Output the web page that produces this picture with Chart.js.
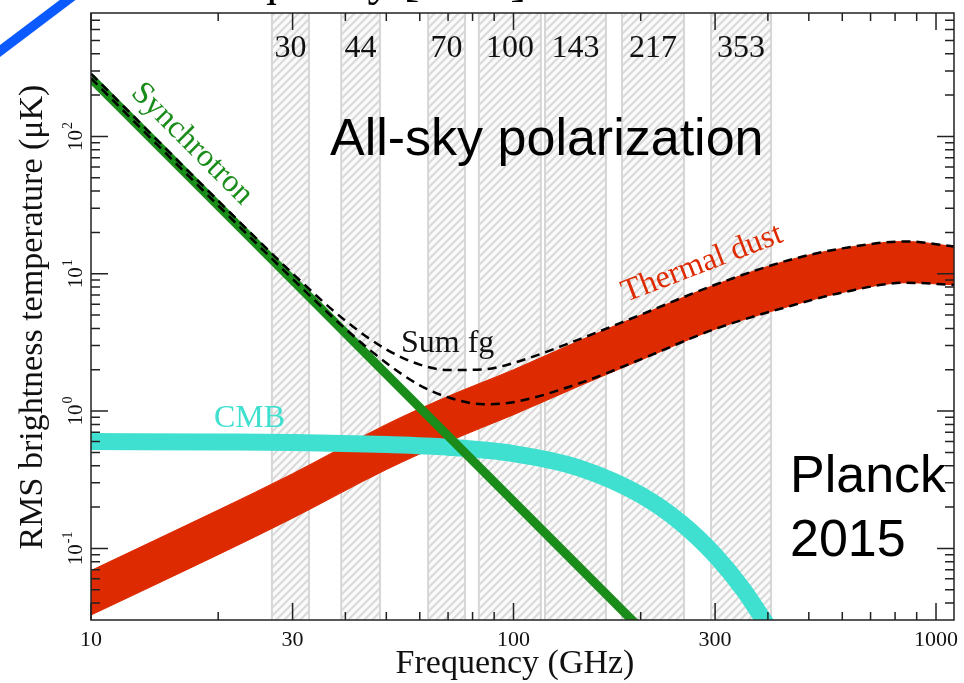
<!DOCTYPE html>
<html>
<head>
<meta charset="utf-8">
<title>All-sky polarization foregrounds</title>
<script src="https://cdn.jsdelivr.net/npm/chart.js@4.4.1/dist/chart.umd.min.js"></script>
<style>
  html, body { margin: 0; padding: 0; background: #fff; }
  #wrap { width: 964px; height: 683px; }
</style>
</head>
<body>
<div id="wrap"><canvas id="fgChart" width="964" height="683"></canvas></div>
<script>
// Planck frequency bands (GHz)
const bandLabels = ['30', '44', '70', '100', '143', '217', '353'];
const bandLow  = [26.8, 39.1, 62.8, 82.8, 118.7, 180.6, 293.4];
const bandHigh = [32.8, 48.3, 76.8, 116.1, 165.5, 253.2, 407];

// Synchrotron (uK)
const syncFreq = [10, 20, 30, 50, 100, 200];
const syncTemp = [265, 31.3, 9.0, 1.86, 0.22, 0.026];

// Thermal dust band, upper / lower edge (uK)
const dustFreq  = [10, 20, 30, 50, 70, 100, 143, 200, 300, 450, 600, 850, 1103];
const dustUpper = [0.069, 0.19, 0.35, 0.80, 1.28, 2.0, 3.25, 5.0, 8.3, 12.6, 15.3, 17.2, 15.8];
const dustLower = [0.0327, 0.090, 0.166, 0.375, 0.60, 0.94, 1.52, 2.35, 3.95, 5.8, 7.3, 8.6, 8.3];

// Sum of foregrounds, upper / lower (uK)
const sumFreq  = [10, 20, 30, 40, 50, 60, 70, 85, 100, 143, 200, 300, 450, 600, 850, 1103];
const sumUpper = [286, 34.0, 10.05, 4.55, 2.81, 2.18, 1.99, 2.01, 2.24, 3.33, 5.03, 8.31, 12.6, 15.3, 17.2, 15.8];
const sumLower = [265, 31.4, 9.17, 3.97, 2.24, 1.54, 1.26, 1.12, 1.16, 1.59, 2.38, 3.96, 5.8, 7.3, 8.6, 8.3];

// CMB (uK)
const cmbFreq = [10, 20, 30, 50, 70, 100, 143, 200, 250, 300, 350, 400];
const cmbTemp = [0.60, 0.595, 0.59, 0.57, 0.545, 0.49, 0.385, 0.245, 0.152, 0.089, 0.05, 0.027];

// Axis ticks
const xTicks = [10, 20, 30, 40, 50, 60, 70, 80, 90, 100, 200, 300, 400, 500, 600, 700, 800, 900, 1000];
const xTickLabels = [10, 30, 100, 300, 1000];
const yTickExps = [-1, 0, 1, 2];
const yTicks = [0.01, 0.1, 1, 10, 100]
    .flatMap(d => [1, 2, 3, 4, 5, 6, 7, 8, 9].map(m => m * d))
    .filter(v => v > 0.0301 && v < 792);

const SERIF = "'Liberation Serif', 'Times New Roman', serif";
const SANS = "'Liberation Sans', Arial, sans-serif";
const RED = '#de2a00';
const GREEN = '#1a8c1a';
const CMB = '#40e0d0';

function pts(xs, ys) {
    return xs.map((x, i) => ({ x: x, y: ys[i] }));
}

function hatchTile() {
    const s = 8;
    const c = document.createElement('canvas');
    c.width = s; c.height = s;
    const g = c.getContext('2d');
    g.fillStyle = '#fafafa';
    g.fillRect(0, 0, s, s);
    g.strokeStyle = '#d9d9d9';
    g.lineWidth = 2;
    g.beginPath();
    g.moveTo(-1, s + 1); g.lineTo(s + 1, -1);
    g.moveTo(-1, 1); g.lineTo(1, -1);
    g.moveTo(s - 1, s + 1); g.lineTo(s + 1, s - 1);
    g.stroke();
    return c;
}

// Hatched Planck bands behind the curves
const bandsPlugin = {
    id: 'bands',
    beforeDatasetsDraw(chart) {
        const { ctx, chartArea: a, scales: { x } } = chart;
        const pat = ctx.createPattern(hatchTile(), 'repeat');
        ctx.save();
        ctx.beginPath();
        ctx.rect(a.left, a.top, a.right - a.left, a.bottom - a.top);
        ctx.clip();
        bandLow.forEach((lo, i) => {
            const x0 = x.getPixelForValue(lo);
            const x1 = x.getPixelForValue(bandHigh[i]);
            ctx.fillStyle = pat;
            ctx.fillRect(x0, a.top, x1 - x0, a.bottom - a.top);
            ctx.strokeStyle = '#d6d6d6';
            ctx.lineWidth = 2;
            ctx.beginPath();
            ctx.moveTo(x0, a.top); ctx.lineTo(x0, a.bottom);
            ctx.moveTo(x1, a.top); ctx.lineTo(x1, a.bottom);
            ctx.stroke();
        });
        ctx.restore();
    }
};

// Frame with inward ticks on all four sides
const framePlugin = {
    id: 'frame',
    afterDatasetsDraw(chart) {
        const { ctx, chartArea: a, scales: { x, y } } = chart;
        ctx.save();
        ctx.strokeStyle = '#222';
        ctx.lineWidth = 1.5;
        ctx.strokeRect(a.left, a.top, a.right - a.left, a.bottom - a.top);
        ctx.beginPath();
        xTicks.forEach(v => {
            const px = x.getPixelForValue(v);
            const len = xTickLabels.includes(v) ? 17 : 8;
            ctx.moveTo(px, a.bottom); ctx.lineTo(px, a.bottom - len);
            ctx.moveTo(px, a.top); ctx.lineTo(px, a.top + len);
        });
        const majors = yTickExps.map(e => Math.pow(10, e));
        yTicks.forEach(v => {
            const py = y.getPixelForValue(v);
            const len = majors.some(m => Math.abs(m - v) / m < 1e-6) ? 17 : 9;
            ctx.moveTo(a.left, py); ctx.lineTo(a.left + len, py);
            ctx.moveTo(a.right, py); ctx.lineTo(a.right - len, py);
        });
        ctx.stroke();
        ctx.restore();
    }
};

// Labels, titles and annotations
const textPlugin = {
    id: 'texts',
    afterDraw(chart) {
        const { ctx, chartArea: a, scales: { x, y } } = chart;
        ctx.save();
        ctx.fillStyle = '#111';

        // y tick labels, rotated with exponent
        yTickExps.forEach(e => {
            const py = y.getPixelForValue(Math.pow(10, e));
            ctx.save();
            ctx.translate(82, py);
            ctx.rotate(-Math.PI / 2);
            ctx.textAlign = 'left';
            ctx.textBaseline = 'alphabetic';
            ctx.font = '21px ' + SERIF;
            const w1 = ctx.measureText('10').width;
            ctx.font = '14px ' + SERIF;
            const sup = String(e);
            const w2 = ctx.measureText(sup).width;
            const start = -(w1 + w2 + 1) / 2;
            ctx.font = '21px ' + SERIF;
            ctx.fillText('10', start, 0);
            ctx.font = '14px ' + SERIF;
            ctx.fillText(sup, start + w1 + 1, -10);
            ctx.restore();
        });

        // axis titles
        ctx.save();
        ctx.translate(42, 317);
        ctx.rotate(-Math.PI / 2);
        ctx.textAlign = 'center';
        ctx.textBaseline = 'alphabetic';
        ctx.font = '34px ' + SERIF;
        ctx.fillText('RMS brightness temperature (\u03bcK)', 0, 0);
        ctx.restore();

        ctx.textAlign = 'center';
        ctx.textBaseline = 'alphabetic';
        ctx.font = '34px ' + SERIF;
        ctx.fillText('Frequency (GHz)', 515, 673);

        // band labels
        ctx.font = '32px ' + SERIF;
        bandLabels.forEach((lab, i) => {
            const cx = (x.getPixelForValue(bandLow[i]) + x.getPixelForValue(bandHigh[i])) / 2;
            ctx.fillText(lab, cx, 57);
        });

        // curve annotations
        ctx.textAlign = 'left';
        ctx.font = '32px ' + SERIF;
        ctx.fillText('Sum fg', 401, 352);
        ctx.fillStyle = CMB;
        ctx.fillText('CMB', 214, 427);

        ctx.save();
        ctx.translate(130, 94);
        ctx.rotate(Math.PI / 4);
        ctx.fillStyle = GREEN;
        ctx.fillText('Synchrotron', 0, 0);
        ctx.restore();

        ctx.save();
        ctx.translate(626, 302);
        ctx.rotate(-21 * Math.PI / 180);
        ctx.fillStyle = RED;
        ctx.font = '32px ' + SERIF;
        ctx.fillText('Thermal dust', 0, 0);
        ctx.restore();

        // slide texts
        ctx.fillStyle = '#000';
        ctx.font = '52px ' + SANS;
        ctx.fillText('All-sky polarization', 330, 155);
        ctx.fillText('Planck', 790, 492);
        ctx.fillText('2015', 790, 556);

        // cut-off heading above the plot
        ctx.font = '48px ' + SERIF;
        ctx.fillText('Frequency [GHz]', 189, -5);

        // blue slide stroke, top left
        ctx.strokeStyle = '#0a5aff';
        ctx.lineWidth = 9.5;
        ctx.beginPath();
        ctx.moveTo(-10, 58.6);
        ctx.lineTo(80, -9.4);
        ctx.stroke();

        ctx.restore();
    }
};

new Chart(document.getElementById('fgChart'), {
    type: 'line',
    data: {
        datasets: [{
            label: 'Sum fg upper',
            data: pts(sumFreq, sumUpper),
            borderColor: '#000',
            borderWidth: 2.5,
            borderDash: [9, 6],
            fill: false,
            cubicInterpolationMode: 'monotone',
            order: 0
        }, {
            label: 'Sum fg lower',
            data: pts(sumFreq, sumLower),
            borderColor: '#000',
            borderWidth: 2.5,
            borderDash: [9, 6],
            fill: false,
            cubicInterpolationMode: 'monotone',
            order: 0
        }, {
            label: 'Synchrotron',
            data: pts(syncFreq, syncTemp),
            borderColor: GREEN,
            borderWidth: 9,
            fill: false,
            tension: 0,
            order: 1
        }, {
            label: 'CMB',
            data: pts(cmbFreq, cmbTemp),
            borderColor: CMB,
            borderWidth: 17,
            fill: false,
            cubicInterpolationMode: 'monotone',
            order: 2
        }, {
            label: 'Thermal dust upper',
            data: pts(dustFreq, dustUpper),
            borderColor: RED,
            borderWidth: 1,
            backgroundColor: RED,
            fill: '+1',
            cubicInterpolationMode: 'monotone',
            order: 3
        }, {
            label: 'Thermal dust lower',
            data: pts(dustFreq, dustLower),
            borderColor: RED,
            borderWidth: 1,
            fill: false,
            cubicInterpolationMode: 'monotone',
            order: 4
        }]
    },
    options: {
        responsive: false,
        animation: false,
        devicePixelRatio: 1,
        events: [],
        layout: { padding: { top: 13, right: 10, left: 0, bottom: 0 } },
        elements: { point: { radius: 0, hoverRadius: 0 } },
        plugins: {
            legend: { display: false },
            tooltip: { enabled: false }
        },
        scales: {
            x: {
                type: 'logarithmic',
                min: 10,
                max: 1103,
                grid: { display: false, drawTicks: false },
                border: { display: false },
                afterBuildTicks: s => { s.ticks = xTicks.map(v => ({ value: v })); },
                afterFit: s => { s.height = 63; s.paddingLeft = 0; s.paddingRight = 0; },
                ticks: {
                    autoSkip: false,
                    maxRotation: 0,
                    minRotation: 0,
                    padding: 7,
                    color: '#111',
                    font: { family: SERIF, size: 22 },
                    callback: v => xTickLabels.includes(v) ? String(v) : ''
                }
            },
            y: {
                type: 'logarithmic',
                min: 0.0301,
                max: 792,
                grid: { display: false, drawTicks: false },
                border: { display: false },
                ticks: { display: false },
                afterFit: s => { s.width = 91; }
            }
        }
    },
    plugins: [bandsPlugin, framePlugin, textPlugin]
});
</script>
</body>
</html>
